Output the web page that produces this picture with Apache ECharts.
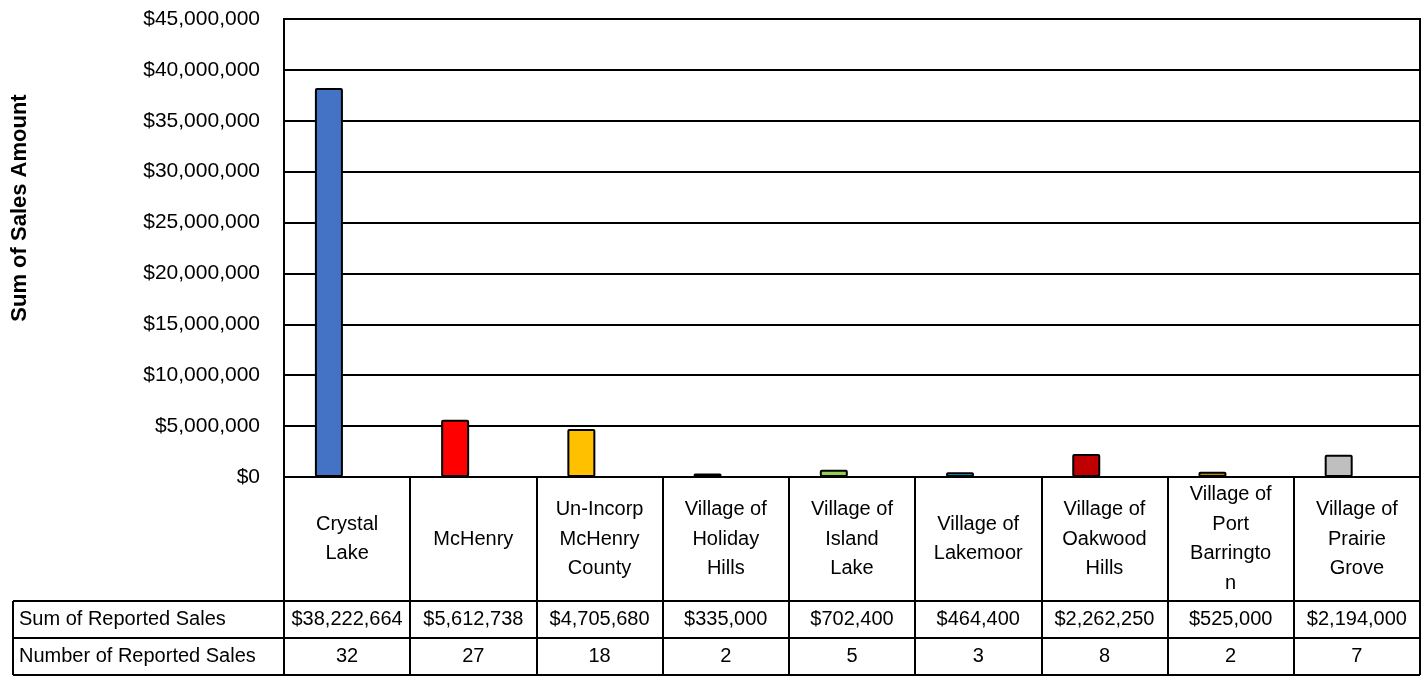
<!DOCTYPE html>
<html>
<head>
<meta charset="utf-8">
<script src="https://cdn.jsdelivr.net/npm/echarts@6/dist/echarts.min.js"></script>
<style>
html, body { margin: 0; padding: 0; background: #fff; }
#chartBar { width: 1426px; height: 677px; }
</style>
</head>
<body>
<div id="chartBar"></div>
<script>
var categories = ["Crystal\nLake", "McHenry", "Un-Incorp\nMcHenry\nCounty", "Village of\nHoliday\nHills",
    "Village of\nIsland\nLake", "Village of\nLakemoor", "Village of\nOakwood\nHills",
    "Village of\nPort\nBarringto\nn", "Village of\nPrairie\nGrove"];
var salesAmount = [38222664, 5612738, 4705680, 335000, 702400, 464400, 2262250, 525000, 2194000];
var salesCount = [32, 27, 18, 2, 5, 3, 8, 2, 7];
var barColors = ["#4472c4", "#ff0000", "#ffc000", "#7030a0", "#92d050", "#00b0f0", "#c00000", "#bf8f00", "#bfbfbf"];
var rowTitles = ["Sum of Reported Sales", "Number of Reported Sales"];
var yTitle = "Sum of Sales Amount";

var FONT = "'Liberation Sans', Arial, sans-serif";
var rowTop = [601, 638, 675];   // table row lines under the category cells
var tableLeft = 13;

function money(v) {
    return "$" + v.toString().replace(/\B(?=(\d{3})+(?!\d))/g, ",");
}

var chart = echarts.init(document.getElementById("chartBar"));

var barData = [];
for (var i = 0; i < salesAmount.length; i++) {
    barData.push({ value: salesAmount[i], itemStyle: { color: barColors[i] } });
}

chart.setOption({
    animation: false,
    backgroundColor: "#fff",
    grid: {
        left: 284, right: 6, top: 19, bottom: 200,
        show: true, borderColor: "#000", borderWidth: 2, backgroundColor: "transparent"
    },
    xAxis: {
        type: "category",
        data: categories,
        axisLine: { lineStyle: { color: "#000", width: 2 } },
        axisTick: { show: true, length: 198, alignWithLabel: false, lineStyle: { color: "#000", width: 2 } },
        axisLabel: {
            interval: 0, margin: 62, verticalAlign: "middle", lineHeight: 29.5,
            color: "#000", fontFamily: FONT, fontSize: 20
        },
        splitLine: { show: false }
    },
    yAxis: [{
        type: "value",
        min: 0, max: 45000000, interval: 5000000,
        axisLine: { show: true, lineStyle: { color: "#000", width: 2 } },
        axisTick: { show: false },
        axisLabel: { margin: 24, color: "#000", fontFamily: FONT, fontSize: 21, formatter: money },
        splitLine: { lineStyle: { color: "#000", width: 2 } }
    }, {
        // the count series sits on a hidden axis, as in the source sheet
        type: "value", show: false, min: 0, max: 45, splitLine: { show: false }
    }],
    series: [{
        name: rowTitles[0],
        type: "bar",
        barWidth: 28,
        barGap: "30%",
        data: barData,
        itemStyle: { borderColor: "#000", borderWidth: 2, borderRadius: 1 }
    }, {
        name: rowTitles[1],
        type: "bar",
        yAxisIndex: 1,
        barWidth: 28,
        silent: true,
        data: salesCount,
        itemStyle: { opacity: 0 }
    }]
});

// data table under the plot, placed on the category axis positions
function drawTable() {
    var g = [];
    var x0 = chart.convertToPixel({ xAxisIndex: 0 }, categories[0]);
    var x1 = chart.convertToPixel({ xAxisIndex: 0 }, categories[1]);
    var band = x1 - x0;
    var right = x0 - band / 2 + band * categories.length;

    for (var r = 0; r < rowTop.length; r++) {
        g.push({ type: "line", shape: { x1: tableLeft, y1: rowTop[r], x2: right, y2: rowTop[r] },
            style: { stroke: "#000", lineWidth: 2 } });
    }
    g.push({ type: "line", shape: { x1: tableLeft, y1: rowTop[0], x2: tableLeft, y2: rowTop[2] },
        style: { stroke: "#000", lineWidth: 2 } });

    var rows = [salesAmount.map(money), salesCount.map(String)];
    for (var k = 0; k < rows.length; k++) {
        var cy = (rowTop[k] + rowTop[k + 1]) / 2;
        g.push({ type: "text", x: tableLeft + 6, y: cy,
            style: { text: rowTitles[k], fill: "#000", font: "20px " + FONT, align: "left", verticalAlign: "middle" } });
        for (var i = 0; i < categories.length; i++) {
            var cx = chart.convertToPixel({ xAxisIndex: 0 }, categories[i]);
            g.push({ type: "text", x: cx, y: cy,
                style: { text: rows[k][i], fill: "#000", font: "20px " + FONT, align: "center", verticalAlign: "middle" } });
        }
    }

    g.push({ type: "text", x: 20, y: 208, rotation: Math.PI / 2,
        style: { text: yTitle, fill: "#000", font: "bold 22px " + FONT, align: "center", verticalAlign: "middle" } });

    chart.setOption({ graphic: g });
}
drawTable();
</script>
</body>
</html>
